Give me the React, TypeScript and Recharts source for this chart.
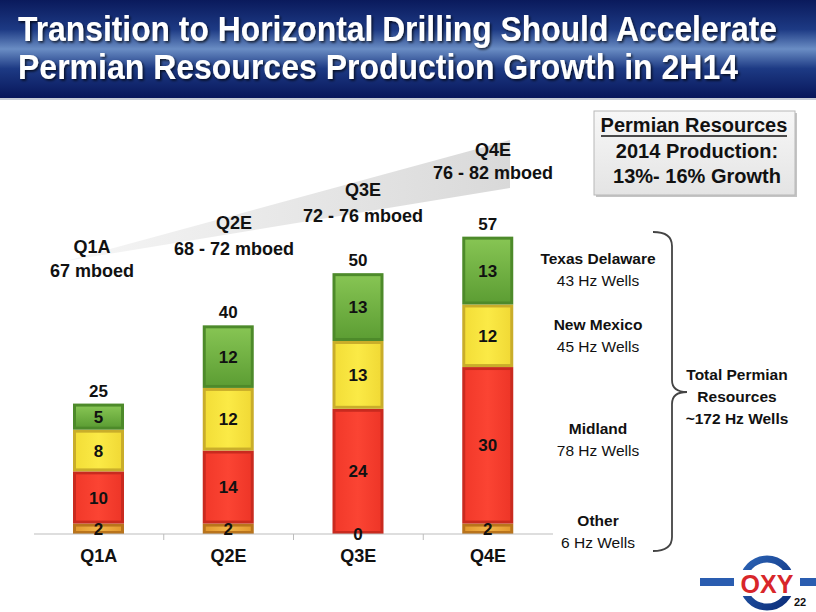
import React from "react";
import { BarChart, Bar, XAxis, YAxis, LabelList } from "recharts";

const quarters = ["Q1A", "Q2E", "Q3E", "Q4E"];
const other = [2, 2, 0, 2];
const midland = [10, 14, 24, 30];
const newMexico = [8, 12, 13, 12];
const texasDelaware = [5, 12, 13, 13];
const totals = [25, 40, 50, 57];

const productionQuarters = ["Q1A", "Q2E", "Q3E", "Q4E"];
const productionRanges = ["67 mboed", "68 - 72 mboed", "72 - 76 mboed", "76 - 82 mboed"];

const regionNames = ["Texas Delaware", "New Mexico", "Midland", "Other"];
const regionWells = ["43 Hz Wells", "45 Hz Wells", "78 Hz Wells", "6 Hz Wells"];
const totalWells = ["Total Permian", "Resources", "~172 Hz Wells"];

const data = quarters.map((q, i) => ({
  name: q,
  other: other[i],
  midland: midland[i],
  newMexico: newMexico[i],
  texasDelaware: texasDelaware[i],
  total: totals[i],
}));

const FONT = "'Liberation Sans', Arial, Helvetica, sans-serif";

const SERIES = [
  { key: "other", grad: "gOther", edge: "#b9741c" },
  { key: "midland", grad: "gMidland", edge: "#c92a1f" },
  { key: "newMexico", grad: "gNewMexico", edge: "#c9ad2a" },
  { key: "texasDelaware", grad: "gTexas", edge: "#4d8a2a" },
];

// positions for the production annotations above the bars
const prodPos = [
  { x: 92, q: 253, r: 277 },
  { x: 234, q: 229, r: 255 },
  { x: 363, q: 196, r: 222 },
  { x: 493, q: 156, r: 179 },
];
const regionY = [264, 330, 434, 526];
const TITLE_SY = 1.12; // title font is a little taller than wide

function bevel(grad: string, edge: string) {
  return (p: any) => {
    const { x, y, width: w, height: h } = p;
    if (!h || h <= 0) return <g />;
    const b = Math.min(3, h / 3);
    return (
      <g>
        <rect x={x} y={y} width={w} height={h} fill={edge} />
        <rect x={x + b} y={y + b} width={w - 2 * b} height={h - 2 * b} fill={`url(#${grad})`} />
      </g>
    );
  };
}

function QuarterTick(props: any) {
  const { x, y, payload, index } = props;
  const half = payload?.offset ?? 65;
  return (
    <g>
      {index > 0 && <line x1={x - half} x2={x - half} y1={y} y2={y + 6} stroke="#bdbdbd" />}
      <text x={x} y={y + 28} textAnchor="middle" fontFamily={FONT} fontWeight="bold" fontSize={18} fill="#111">
        {payload.value}
      </text>
    </g>
  );
}

const labelStyle = { fontFamily: FONT, fontWeight: "bold" as const, fontSize: 17, fill: "#111" };

export default function App() {
  return (
    <div style={{ position: "absolute", left: 0, top: 0, width: 816, height: 612, background: "#fff", overflow: "hidden" }}>
      <svg width={816} height={612} style={{ position: "absolute", left: 0, top: 0 }}>
        <defs>
          <linearGradient id="titleBg" x1="0" y1="0" x2="0" y2="1">
            <stop offset="0" stopColor="#0a1a5c" />
            <stop offset="0.3" stopColor="#1d3a84" />
            <stop offset="0.5" stopColor="#6a8dc4" />
            <stop offset="0.7" stopColor="#1d3a84" />
            <stop offset="1" stopColor="#08165a" />
          </linearGradient>
          <linearGradient id="wedge" x1="0" y1="0" x2="1" y2="0">
            <stop offset="0" stopColor="#f6f6f6" />
            <stop offset="1" stopColor="#d9d9d9" />
          </linearGradient>
          <linearGradient id="boxBg" x1="0" y1="0" x2="0" y2="1">
            <stop offset="0" stopColor="#f7f7f7" />
            <stop offset="1" stopColor="#e4e4e4" />
          </linearGradient>
          <linearGradient id="ring" x1="0" y1="0" x2="1" y2="1">
            <stop offset="0" stopColor="#2b63b5" />
            <stop offset="1" stopColor="#0b2c78" />
          </linearGradient>
          <filter id="tshadow" x="-5%" y="-20%" width="110%" height="140%">
            <feDropShadow dx="1.5" dy="1.5" stdDeviation="0.8" floodColor="#000" floodOpacity="0.7" />
          </filter>
        </defs>

        {/* title band */}
        <rect x={0} y={0} width={816} height={98} fill="url(#titleBg)" />
        <rect x={0} y={98} width={816} height={2} fill="#c8ccd6" />
        <g
          fontFamily={FONT}
          fontWeight="bold"
          fontSize={32}
          fill="#fff"
          filter="url(#tshadow)"
          transform={`scale(1, ${TITLE_SY})`}
        >
          <text x={18} y={41 / TITLE_SY} textLength={759} lengthAdjust="spacingAndGlyphs">
            Transition to Horizontal Drilling Should Accelerate
          </text>
          <text x={18} y={79 / TITLE_SY} textLength={720} lengthAdjust="spacingAndGlyphs">
            Permian Resources Production Growth in 2H14
          </text>
        </g>

        {/* growth wedge */}
        <polygon points="66,261 510,140 510,188" fill="url(#wedge)" />
        <g fontFamily={FONT} fontWeight="bold" fontSize={18} fill="#111" textAnchor="middle">
          {productionQuarters.map((q, i) => (
            <g key={q}>
              <text x={prodPos[i].x} y={prodPos[i].q}>{q}</text>
              <text x={prodPos[i].x} y={prodPos[i].r}>{productionRanges[i]}</text>
            </g>
          ))}
        </g>

        {/* summary box */}
        <rect x={596} y={113} width={201} height={84} fill="#c4c4c4" />
        <rect x={594} y={111} width={201} height={84} fill="url(#boxBg)" stroke="#b8b8b8" />
        <g fontFamily={FONT} fontWeight="bold" fontSize={20} fill="#111" textAnchor="middle">
          <text x={694} y={132}>Permian Resources</text>
          <line x1={601} x2={787} y1={136} y2={136} stroke="#111" strokeWidth={1.6} />
          <text x={697} y={158}>2014 Production:</text>
          <text x={697} y={183}>13%- 16% Growth</text>
        </g>

        {/* region legend */}
        <g fontFamily={FONT} fontSize={15.5} fill="#111" textAnchor="middle">
          {regionNames.map((n, i) => (
            <g key={n}>
              <text x={598} y={regionY[i]} fontWeight="bold">{n}</text>
              <text x={598} y={regionY[i] + 22}>{regionWells[i]}</text>
            </g>
          ))}
        </g>
        <path
          d="M653,232 Q672,232 672,246 L672,380 Q672,392 687,392 Q672,392 672,404 L672,537 Q672,551 653,551"
          fill="none"
          stroke="#444"
          strokeWidth={1.8}
        />
        <g fontFamily={FONT} fontWeight="bold" fontSize={15.5} fill="#111" textAnchor="middle">
          {totalWells.map((t, i) => (
            <text key={t} x={737} y={380 + i * 22}>{t}</text>
          ))}
        </g>

        {/* logo */}
        <rect x={700} y={578} width={40} height={8} fill="#2a5db0" />
        <rect x={796} y={578} width={20} height={8} fill="#2a5db0" />
        <circle cx={767} cy={583} r={24} fill="none" stroke="url(#ring)" strokeWidth={7} />
        <rect x={734} y={570} width={66} height={26} fill="#fff" />
        <text x={767} y={593} textAnchor="middle" fontFamily={FONT} fontWeight="bold" fontSize={25} fill="#d8262a">
          OXY
        </text>
        <text x={800} y={606} textAnchor="middle" fontFamily={FONT} fontWeight="bold" fontSize={11} fill="#111">
          22
        </text>
      </svg>

      <div style={{ position: "absolute", left: 0, top: 0 }}>
        <BarChart width={600} height={612} data={data} margin={{ top: 221, right: 47, bottom: 38, left: 34 }} barSize={51}>
          <defs>
            <linearGradient id="gOther" x1="0" y1="0" x2="1" y2="0">
              <stop offset="0" stopColor="#e39a2e" />
              <stop offset="0.5" stopColor="#f2b448" />
              <stop offset="1" stopColor="#e39a2e" />
            </linearGradient>
            <linearGradient id="gMidland" x1="0" y1="0" x2="1" y2="0">
              <stop offset="0" stopColor="#f2392a" />
              <stop offset="0.5" stopColor="#fb4433" />
              <stop offset="1" stopColor="#ee3628" />
            </linearGradient>
            <linearGradient id="gNewMexico" x1="0" y1="0" x2="1" y2="0">
              <stop offset="0" stopColor="#f3de38" />
              <stop offset="0.5" stopColor="#fbea46" />
              <stop offset="1" stopColor="#f1da36" />
            </linearGradient>
            <linearGradient id="gTexas" x1="0" y1="0" x2="0" y2="1">
              <stop offset="0" stopColor="#86c453" />
              <stop offset="1" stopColor="#5d9e34" />
            </linearGradient>
          </defs>
          <XAxis
            dataKey="name"
            height={40}
            tickSize={0}
            tickMargin={0}
            axisLine={{ stroke: "#bdbdbd" }}
            tickLine={false}
            tick={<QuarterTick />}
            interval={0}
          />
          <YAxis hide domain={[0, 60]} />
          {SERIES.map((s, i) => (
            <Bar key={s.key} dataKey={s.key} stackId="a" isAnimationActive={false} shape={bevel(s.grad, s.edge)}>
              <LabelList dataKey={s.key} position="center" style={labelStyle} />
              {i === SERIES.length - 1 && (
                <LabelList dataKey="total" position="top" offset={7} style={labelStyle} />
              )}
            </Bar>
          ))}
        </BarChart>
      </div>
    </div>
  );
}
